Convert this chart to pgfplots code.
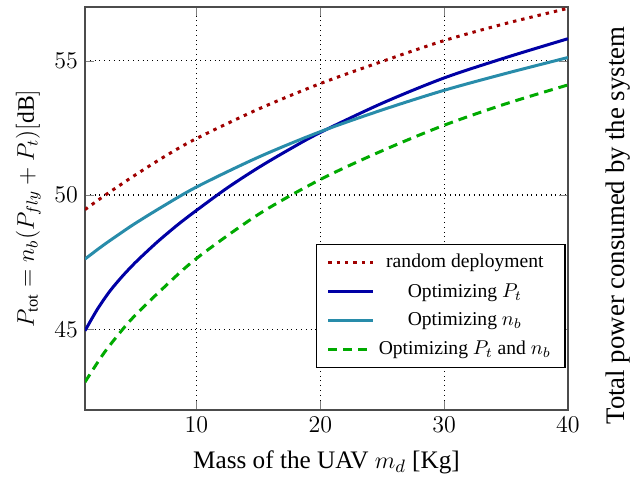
\documentclass[border=0pt]{standalone}
\usepackage{pgfplots}
\pgfplotsset{compat=1.18}
\usepackage{fontspec}
\setmainfont{Liberation Serif}
\definecolor{cred}{RGB}{160,0,0}
\definecolor{cblue}{RGB}{0,0,165}
\definecolor{clight}{RGB}{40,140,170}
\definecolor{cgreen}{RGB}{0,170,0}
\begin{document}
\begin{tikzpicture}
\begin{axis}[
  scale only axis,
  width=241.5pt, height=201.5pt,
  xmin=1, xmax=40, ymin=42, ymax=57,
  xtick={10,20,30,40}, ytick={45,50,55},
  grid=major,
  major grid style={black, dotted, line width=0.6pt},
  axis line style={black!70, line width=0.8pt},
  tick style={black!50},
  tick label style={font=\fontsize{12}{14}\selectfont},
  xlabel={\fontsize{12.6}{15}\selectfont Mass of the UAV $m_d$ [Kg]},
  ylabel={\fontsize{11.8}{14}\selectfont $P_{\rm tot}=n_b(P_{fly}+P_t)[\mathrm{dB}]$},
  xlabel style={yshift=-2pt},
  ylabel style={yshift=0pt},
  legend style={at={(0.995,0.104)}, anchor=south east, font=\fontsize{9.8}{11}\selectfont,
    draw=black, line width=0.6pt, row sep=2.2pt, inner xsep=5pt, inner ysep=3pt},
  legend cell align=center,
  legend image code/.code={\draw[#1] (0pt,0pt) -- (22.5pt,0pt);},
  every axis plot/.append style={line width=1.5pt},
  clip mode=individual,
]
\addplot[cred, smooth, dash pattern=on 1.7pt off 2.5pt] coordinates {
(1,49.46) (2.5,49.955) (5,50.73) (7.5,51.455) (10,52.105) (15,53.2) (20,54.15) (25,54.975) (30,55.75) (35,56.39) (40,56.95)};
\addlegendentry{random deployment}
\addplot[cblue, smooth] coordinates {
(1,44.95) (2,45.75) (3,46.42) (4,46.97) (5,47.46) (6,47.9) (7,48.32) (8.5,48.9) (10,49.43) (12.5,50.27) (15,51.02) (17.5,51.7) (20,52.33) (25,53.42) (30,54.36) (35,55.12) (40,55.82)};
\addlegendentry{Optimizing $P_t$}
\addplot[clight, smooth] coordinates {
(1,47.62) (2.5,48.14) (4,48.62) (5,48.93) (7,49.5) (10,50.3) (15,51.41) (20,52.36) (25,53.17) (30,53.9) (35,54.53) (40,55.12)};
\addlegendentry{Optimizing $n_b$}
\addplot[cgreen, smooth, dash pattern=on 4.5pt off 3pt] coordinates {
(1,43.04) (2.5,44.1) (4,44.98) (5,45.5) (7,46.4) (10,47.64) (15,49.28) (20,50.58) (25,51.65) (30,52.6) (35,53.4) (40,54.1)};
\addlegendentry{Optimizing $P_t$ and $n_b$}
\end{axis}
\node[rotate=90, anchor=center, font=\fontsize{13.4}{15}\selectfont] at ([xshift=25pt,yshift=-8.5pt]current axis.east) {Total power consumed by the system};
\pgfresetboundingbox
\path ([shift={(-42.5pt,-34pt)}]current axis.south west) rectangle ([shift={(31pt,3.5pt)}]current axis.north east);
\end{tikzpicture}
\end{document}
